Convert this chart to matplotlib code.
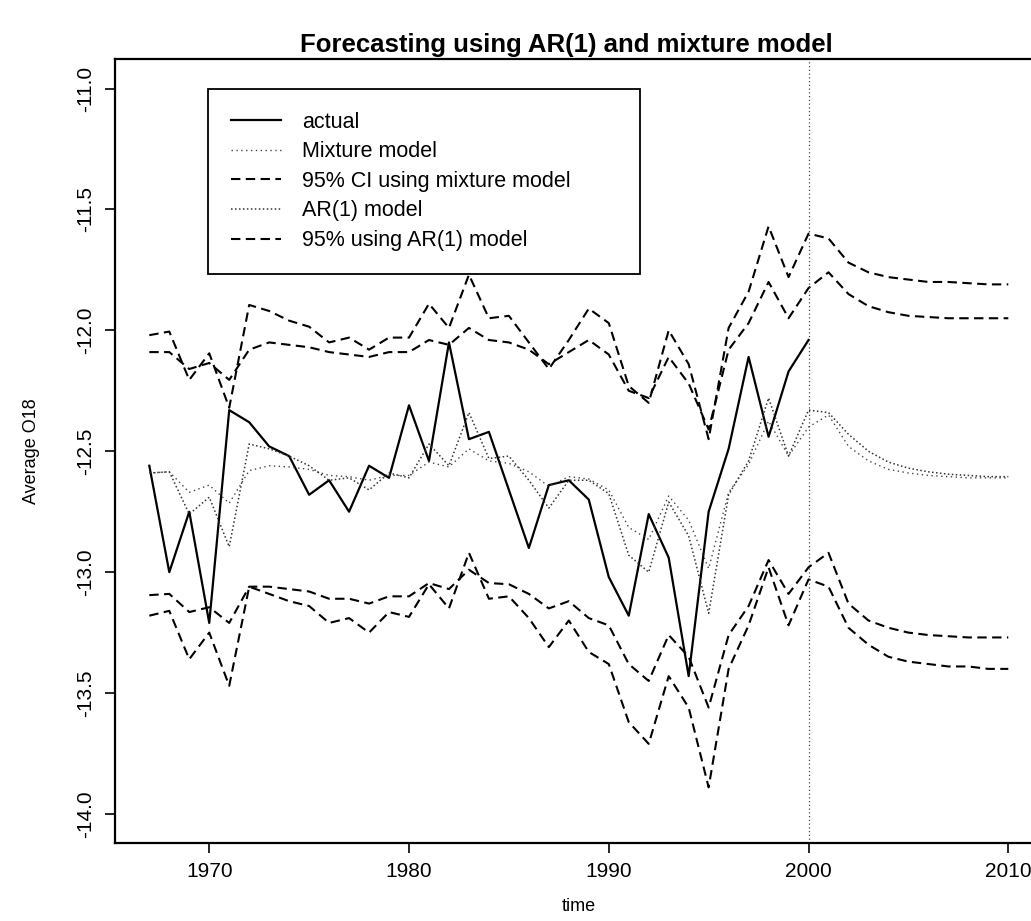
import matplotlib
matplotlib.use("Agg")
import matplotlib.pyplot as plt

# observed series 1967-2000, model fits 1967-2000 plus forecasts to 2010
years = list(range(1967, 2001))
all_years = list(range(1967, 2011))

actual = [-12.56, -13.00, -12.75, -13.21, -12.33, -12.38, -12.48, -12.52, -12.68, -12.62,
          -12.75, -12.56, -12.61, -12.31, -12.54, -12.05, -12.45, -12.42, -12.66, -12.90,
          -12.64, -12.62, -12.70, -13.02, -13.18, -12.76, -12.94, -13.43, -12.75, -12.49,
          -12.11, -12.44, -12.17, -12.04]

mixture_model = [-12.59, -12.585, -12.67, -12.64, -12.715, -12.58, -12.56, -12.565, -12.575, -12.60,
                 -12.605, -12.62, -12.60, -12.60, -12.545, -12.565, -12.49, -12.54, -12.55, -12.585,
                 -12.645, -12.605, -12.615, -12.66, -12.815, -12.865, -12.685, -12.785, -12.985, -12.67,
                 -12.555, -12.375, -12.52, -12.40,
                 -12.35, -12.48, -12.54, -12.575, -12.59, -12.60, -12.605, -12.61, -12.61, -12.61]

mixture_upper = [-12.09, -12.09, -12.16, -12.135, -12.205, -12.08, -12.05, -12.06, -12.07, -12.09,
                 -12.10, -12.11, -12.09, -12.09, -12.04, -12.06, -11.99, -12.04, -12.05, -12.08,
                 -12.14, -12.09, -12.04, -12.10, -12.25, -12.28, -12.11, -12.22, -12.41, -12.08,
                 -11.97, -11.80, -11.95, -11.825,
                 -11.76, -11.85, -11.90, -11.925, -11.94, -11.945, -11.95, -11.95, -11.95, -11.95]

mixture_lower = [-13.095, -13.09, -13.165, -13.145, -13.21, -13.06, -13.06, -13.07, -13.08, -13.11,
                 -13.11, -13.13, -13.10, -13.10, -13.045, -13.07, -12.99, -13.045, -13.05, -13.09,
                 -13.15, -13.12, -13.19, -13.22, -13.38, -13.45, -13.26, -13.35, -13.56, -13.26,
                 -13.14, -12.95, -13.09, -12.98,
                 -12.92, -13.13, -13.20, -13.23, -13.25, -13.26, -13.265, -13.27, -13.27, -13.27]

ar1_model = [-12.59, -12.585, -12.76, -12.69, -12.895, -12.47, -12.49, -12.52, -12.56, -12.62,
             -12.61, -12.66, -12.59, -12.61, -12.47, -12.56, -12.34, -12.53, -12.52, -12.62,
             -12.735, -12.62, -12.62, -12.675, -12.93, -13.00, -12.71, -12.85, -13.17, -12.68,
             -12.54, -12.28, -12.52, -12.33,
             -12.34, -12.43, -12.50, -12.545, -12.57, -12.585, -12.595, -12.60, -12.605, -12.605]

ar1_upper = [-12.02, -12.005, -12.205, -12.095, -12.32, -11.895, -11.92, -11.96, -11.985, -12.05,
             -12.03, -12.08, -12.03, -12.03, -11.89, -11.99, -11.77, -11.95, -11.94, -12.05,
             -12.16, -12.04, -11.91, -11.97, -12.23, -12.30, -12.00, -12.14, -12.45, -11.99,
             -11.84, -11.57, -11.78, -11.60,
             -11.62, -11.72, -11.76, -11.78, -11.79, -11.80, -11.80, -11.805, -11.81, -11.81]

ar1_lower = [-13.18, -13.16, -13.36, -13.25, -13.47, -13.06, -13.09, -13.12, -13.14, -13.21,
             -13.19, -13.25, -13.165, -13.185, -13.05, -13.15, -12.92, -13.11, -13.10, -13.19,
             -13.31, -13.20, -13.33, -13.38, -13.62, -13.71, -13.43, -13.56, -13.89, -13.40,
             -13.22, -12.98, -13.22, -13.03,
             -13.06, -13.23, -13.30, -13.35, -13.37, -13.38, -13.39, -13.39, -13.40, -13.40]

x_ticks = [1970, 1980, 1990, 2000, 2010]
y_ticks = [-14.0, -13.5, -13.0, -12.5, -12.0, -11.5, -11.0]
forecast_origin = 2000

narrow = ["Liberation Sans Narrow", "Liberation Sans", "DejaVu Sans"]
plain = ["Liberation Sans", "DejaVu Sans"]
plt.rcParams["font.family"] = narrow
plt.rcParams["axes.unicode_minus"] = False


def main():
    fig = plt.figure(figsize=(10.31, 9.21), dpi=100)
    # plot region runs past the right edge of the page
    ax = fig.add_axes([0.1115, 0.0847, 0.8998, 0.8507])

    dash = (0, (4.5, 2.6))
    ax.plot(years, actual, color="black", lw=1.6, label="actual")
    ax.plot(all_years, mixture_model, color="#444444", lw=1.0, ls=(0, (1, 2.5)),
            label="Mixture model")
    ax.plot(all_years, mixture_upper, color="black", lw=1.5, ls=dash,
            label="95% CI using mixture model")
    ax.plot(all_years, mixture_lower, color="black", lw=1.5, ls=dash)
    ax.plot(all_years, ar1_model, color="#333333", lw=1.1, ls=(0, (1, 1.6)),
            label="AR(1) model")
    ax.plot(all_years, ar1_upper, color="black", lw=1.5, ls=dash,
            label="95% using AR(1) model")
    ax.plot(all_years, ar1_lower, color="black", lw=1.5, ls=dash)
    ax.axvline(forecast_origin, color="#444444", lw=0.9, ls=(0, (1, 2)))

    ax.set_xlim(1965.28, 2011.72)
    ax.set_ylim(-14.12, -10.88)
    ax.set_xticks(x_ticks)
    ax.set_yticks(y_ticks)
    ax.set_yticklabels([f"{v:.1f}" for v in y_ticks], rotation=90, va="center")
    ax.tick_params(direction="out", length=7, width=1.2, labelsize=15, pad=7)
    for s in ax.spines.values():
        s.set_linewidth(1.6)

    ax.set_xlabel("time", fontsize=13, labelpad=12)
    ax.set_ylabel("Average O18", fontsize=13, labelpad=26)
    fig.text(0.549, 0.951, "Forecasting using AR(1) and mixture model",
             ha="center", va="center", fontsize=18.5, fontweight="bold", family=plain)

    leg = ax.legend(loc="upper left", bbox_to_anchor=(208 / 1031, 651 / 921, 432 / 1031, 181 / 921),
                    bbox_transform=fig.transFigure, mode="expand", borderaxespad=0,
                    fancybox=False, framealpha=1, edgecolor="black",
                    handlelength=2.33, handletextpad=0.98, labelspacing=0.4,
                    borderpad=1.05, prop={"family": plain, "size": 15.5})
    leg.get_frame().set_linewidth(1.3)

    fig.savefig("out.png", dpi=100)


if __name__ == "__main__":
    main()
